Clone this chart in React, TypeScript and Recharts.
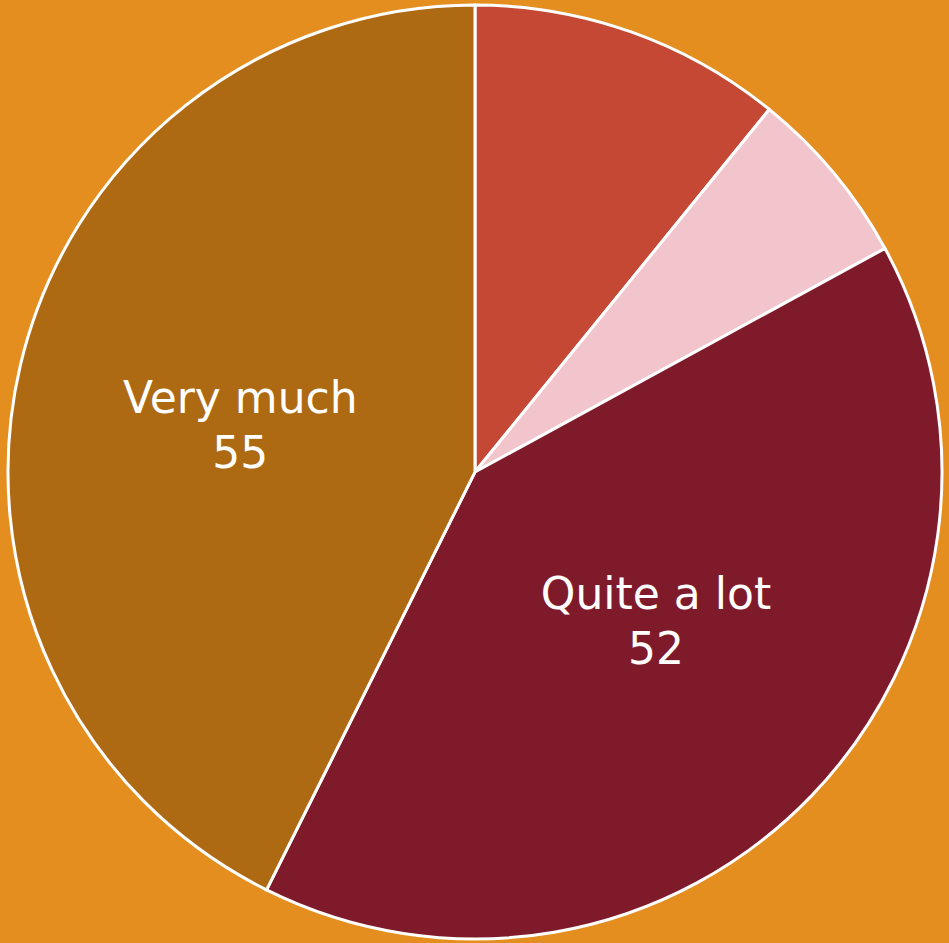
import { PieChart, Pie, Cell } from "recharts";

const labels = ["A little", "Not much", "Quite a lot", "Very much"];
const counts = [14, 8, 52, 55];
const colors = ["#C44833", "#F2C4CB", "#7F1A2B", "#AE6913"];

const data = labels.map((label, i) => ({ label, total: counts[i] }));

const renderLabel = (props: any) => {
  const RADIAN = Math.PI / 180;
  const { cx, cy, midAngle, outerRadius, payload, value } = props;
  if (value < 20) return null;
  const r = outerRadius * 0.51;
  const angle = midAngle + 3.4;
  const x = cx + r * Math.cos(-angle * RADIAN);
  const y = cy + r * Math.sin(-angle * RADIAN);
  return (
    <text
      x={x}
      y={y}
      textAnchor="middle"
      fill="#ffffff"
      fontSize={44}
      fontFamily="'DejaVu Sans', sans-serif"
    >
      <tspan x={x} y={y - 18}>
        {payload.label}
      </tspan>
      <tspan x={x} y={y + 37}>
        {value}
      </tspan>
    </text>
  );
};

export default function App() {
  return (
    <div
      style={{
        position: "fixed",
        left: 0,
        top: 0,
        width: 949,
        height: 943,
        background: "#E58E20",
      }}
    >
      <PieChart width={949} height={943}>
        <Pie
          data={data}
          dataKey="total"
          nameKey="label"
          cx={470}
          cy={467}
          outerRadius={467}
          startAngle={90}
          endAngle={-270}
          stroke="#ffffff"
          strokeWidth={3}
          labelLine={false}
          label={renderLabel}
          isAnimationActive={false}
        >
          {data.map((row, i) => (
            <Cell key={row.label} fill={colors[i]} />
          ))}
        </Pie>
      </PieChart>
    </div>
  );
}
